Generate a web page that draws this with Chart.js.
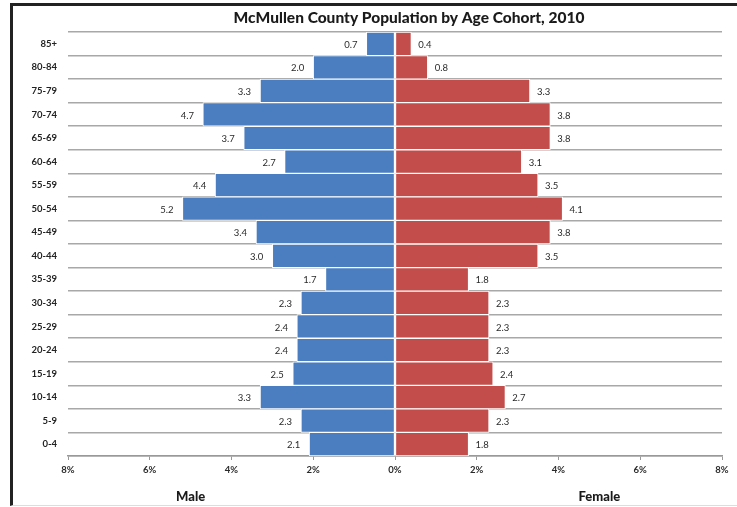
<!DOCTYPE html>
<html>
<head>
<meta charset="utf-8">
<script src="https://cdn.jsdelivr.net/npm/chart.js@4.4.1/dist/chart.umd.min.js"></script>
<style>
  html, body { margin: 0; padding: 0; background: #fff; }
  #wrap { position: relative; width: 737px; height: 507px; }
  #frame {
    position: absolute; left: 10px; top: 3px; right: 0; bottom: 1px;
    border-top: 3px solid #222; border-left: 3px solid #222;
    border-bottom: 1px solid #ddd;
  }
  canvas { position: absolute; left: 0; top: 0; }
</style>
</head>
<body>
<div id="wrap">
  <div id="frame"></div>
  <canvas id="pyramid" width="737" height="507"></canvas>
</div>
<script>
// Age cohorts, oldest at the top
const cohorts = ['85+', '80-84', '75-79', '70-74', '65-69', '60-64', '55-59', '50-54', '45-49',
                 '40-44', '35-39', '30-34', '25-29', '20-24', '15-19', '10-14', '5-9', '0-4'];
// Share of total population (%)
const malePct   = [0.7, 2.0, 3.3, 4.7, 3.7, 2.7, 4.4, 5.2, 3.4, 3.0, 1.7, 2.3, 2.4, 2.4, 2.5, 3.3, 2.3, 2.1];
const femalePct = [0.4, 0.8, 3.3, 3.8, 3.8, 3.1, 3.5, 4.1, 3.8, 3.5, 1.8, 2.3, 2.3, 2.3, 2.4, 2.7, 2.3, 1.8];
const axisTicks = [-8, -6, -4, -2, 0, 2, 4, 6, 8];

const FONT = 'Lato, "DejaVu Sans", sans-serif';

// value labels beside each bar end
const barLabels = {
  id: 'barLabels',
  afterDatasetsDraw(chart) {
    const ctx = chart.ctx;
    ctx.save();
    ctx.font = '9.5px ' + FONT;
    ctx.fillStyle = '#2a2a2a';
    ctx.textBaseline = 'middle';
    chart.data.datasets.forEach((ds, i) => {
      const meta = chart.getDatasetMeta(i);
      meta.data.forEach((bar, j) => {
        const v = Math.abs(ds.data[j]).toFixed(1);
        if (ds.data[j] < 0) {
          ctx.textAlign = 'right';
          ctx.fillText(v, bar.x - 9, bar.y + 1);
        } else {
          ctx.textAlign = 'left';
          ctx.fillText(v, bar.x + 7, bar.y + 1);
        }
      });
    });
    ctx.restore();
  }
};

// chart title and the two side captions
const captions = {
  id: 'captions',
  afterDraw(chart) {
    const ctx = chart.ctx;
    const x = chart.scales.x;
    ctx.save();
    ctx.fillStyle = '#1a1a1a';
    ctx.textAlign = 'center';
    ctx.textBaseline = 'middle';
    ctx.font = '900 15.5px ' + FONT;
    ctx.fillText('McMullen County Population by Age Cohort, 2010', 409, 18);
    ctx.font = '900 13px ' + FONT;
    ctx.fillText('Male', x.getPixelForValue(-5), 497);
    ctx.fillText('Female', x.getPixelForValue(5), 497);
    ctx.restore();
  }
};

new Chart(document.getElementById('pyramid'), {
  type: 'bar',
  data: {
    labels: cohorts,
    datasets: [{
      label: 'Male',
      data: malePct.map(v => -v),
      backgroundColor: '#4a7ec0',
      borderColor: '#fff',
      borderWidth: 1,
      borderSkipped: false
    }, {
      label: 'Female',
      data: femalePct,
      backgroundColor: '#c24d4a',
      borderColor: '#fff',
      borderWidth: 1,
      borderSkipped: false
    }]
  },
  options: {
    indexAxis: 'y',
    responsive: false,
    animation: false,
    layout: { padding: { left: 12, right: 15, top: 32, bottom: 11 } },
    datasets: { bar: { barPercentage: 1, categoryPercentage: 1 } },
    plugins: {
      legend: { display: false },
      tooltip: { enabled: false }
    },
    scales: {
      x: {
        stacked: true,
        min: -8, max: 8,
        afterBuildTicks: s => { s.ticks = axisTicks.map(v => ({ value: v })); },
        afterFit: s => { s.height = 40; },
        ticks: {
          color: '#2a2a2a',
          font: { size: 9.5, family: FONT, weight: 'bold' },
          padding: 4,
          callback: v => Math.abs(v) + '%'
        },
        grid: { drawOnChartArea: false, drawTicks: true, tickLength: 4, color: '#999' },
        border: { display: true, color: '#999', width: 1.5 }
      },
      y: {
        stacked: true,
        afterFit: s => { s.width = 56; },
        ticks: {
          color: '#222',
          font: { size: 9.5, family: FONT, weight: 'bold' },
          padding: 11
        },
        grid: { offset: true, drawTicks: false, color: '#a8a8a8', lineWidth: 1.5 },
        border: { display: false }
      }
    }
  },
  plugins: [barLabels, captions]
});
</script>
</body>
</html>
